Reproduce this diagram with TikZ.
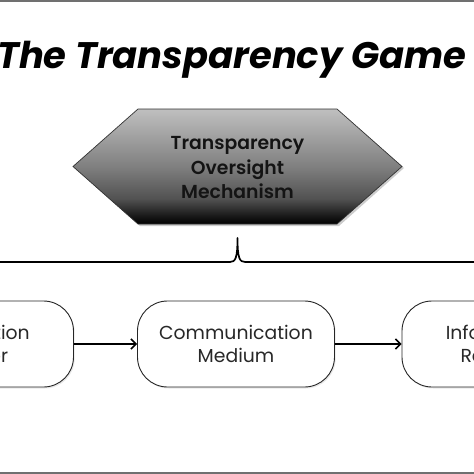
\documentclass[tikz,border=0pt]{standalone}
\usepackage{fontspec}
\setmainfont{Poppins}
\newfontfamily\pop{Poppins}[BoldFont={Poppins SemiBold}, BoldItalicFont={Poppins SemiBold Italic}]
\newfontfamily\poptitle{Poppins}
\usetikzlibrary{arrows.meta,shadows}
\definecolor{barGray}{RGB}{112,112,112}
\definecolor{hexText}{RGB}{20,20,20}
\definecolor{boxText}{RGB}{40,40,40}
\pgfdeclareverticalshading{hexshade}{100bp}{
  color(0bp)=(black); color(25bp)=(black); color(28bp)=(black!92);
  color(36bp)=(black!68); color(50bp)=(black!50); color(62bp)=(black!38);
  color(75bp)=(black!25); color(100bp)=(black!25)}
\tikzset{
  stadium/.style={draw=black!85, line width=0.9pt, fill=white, rounded corners=30pt,
    minimum width=197pt, minimum height=86pt, inner sep=0pt, align=center,
    font=\pop\fontsize{18.8}{23}\selectfont, text=boxText,
    drop shadow={opacity=0.18, shadow xshift=1.2pt, shadow yshift=-1.5pt}},
  flow/.style={line width=1.6pt, -{Straight Barb[length=5pt,width=10pt,line width=1.6pt]}},
  hextext/.style={align=center, font=\pop\bfseries\fontsize{18.8}{24.5}\selectfont, text=hexText, inner sep=0pt},
}
\begin{document}
\begin{tikzpicture}[x=1pt,y=-1pt]
\useasboundingbox (0,0) rectangle (474,474);
\clip (0,0) rectangle (474,474);
% gray bars
\fill[barGray] (0,0) rectangle (474,2.2);
\fill[barGray] (0,471.8) rectangle (474,474);
% title
\node[anchor=base west, inner sep=0pt] (title) at (-3,68)
  {\resizebox{469pt}{!}{\poptitle\bfseries\itshape The Transparency Game}};
% hexagon
\fill[black, opacity=0.2] (75,168) -- (140,111) -- (339,111) -- (404,168) -- (339,226) -- (140,226) -- cycle;
\shade[shading=hexshade, draw=black!80, line width=0.7pt]
  (73,166.5) -- (138,109) -- (337,109) -- (402,166.5) -- (337,224) -- (138,224) -- cycle;
\node[hextext] (tom) at (237.5,168) {Transparency\\Oversight\\Mechanism};
% brace
\coordinate (bl) at (-10,262);
\coordinate (br) at (484,262);
\coordinate (peak) at (237.5,238);
\draw[line width=1.7pt, line join=round] (bl) -- (230,262)
  .. controls (235.5,262) and (237.5,258) .. (peak)
  .. controls (237.5,258) and (239.5,262) .. (245,262) -- (br);
% boxes
\node[stadium] (sender) at (-25,344) {Information\\Sender};
\node[stadium] (medium) at (236,344) {Communication\\Medium};
\node[stadium] (receiver) at (500.5,344) {Information\\Receiver};
\draw[flow] (sender) -- (medium);
\draw[flow] (medium) -- (receiver);
\end{tikzpicture}
\end{document}
